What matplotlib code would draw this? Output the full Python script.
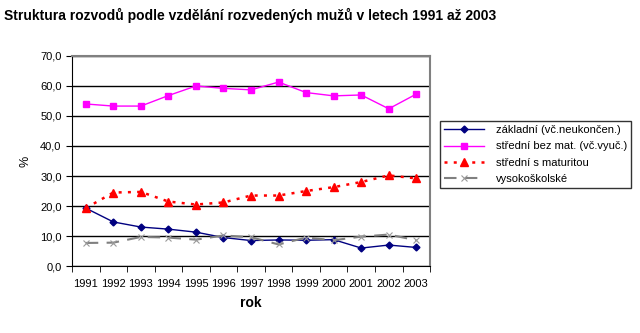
import matplotlib.pyplot as plt
import numpy as np

plt.rcParams['font.family'] = ['Liberation Sans', 'DejaVu Sans']

# Data
roky = ['1991', '1992', '1993', '1994', '1995', '1996', '1997',
        '1998', '1999', '2000', '2001', '2002', '2003']
zakladni = [19.3, 14.7, 13.0, 12.3, 11.3, 9.5, 8.5, 8.7, 8.6, 8.8, 6.0, 7.0, 6.2]
stredni_bez = [54.0, 53.3, 53.3, 56.8, 60.0, 59.2, 58.7, 61.3, 57.8, 56.7, 57.0, 52.4, 57.3]
stredni_mat = [19.3, 24.5, 24.7, 21.5, 20.5, 21.2, 23.5, 23.5, 25.0, 26.3, 28.0, 30.2, 29.2]
vysokoskolske = [7.7, 7.8, 9.7, 9.5, 8.8, 10.2, 9.6, 7.2, 9.5, 8.6, 9.8, 10.5, 8.6]

fig = plt.figure(figsize=(6.4, 3.33), dpi=100)
ax = fig.add_axes([0.1125, 0.201, 0.5595, 0.631])

x = np.arange(1, len(roky) + 1)

ax.plot(x, zakladni, color='#000080', lw=1, marker='D', ms=3.5,
        label='základní (vč.neukončen.)')
ax.plot(x, stredni_bez, color='#FF00FF', lw=1, marker='s', ms=5,
        label='střední bez mat. (vč.vyuč.)')
ax.plot(x, stredni_mat, color='#FF0000', lw=1.8, ls=(0, (1.2, 2.5)), marker='^', ms=5.5,
        label='střední s maturitou')
ax.plot(x, vysokoskolske, color='#808080', lw=1.5, ls=(0, (6, 4)), marker='x', ms=5,
        mew=0.8, mec='#999999', label='vysokoškolské')

ax.set_xlim(0.5, len(roky) + 0.5)
ax.set_ylim(0, 70)
ax.set_yticks(np.arange(0, 71, 10))
ax.set_yticklabels([f'{v:.1f}'.replace('.', ',') for v in np.arange(0, 71, 10)], fontsize=8)
ax.set_xticks(x)
ax.set_xticklabels(roky, fontsize=8)
ax.set_xticks(np.arange(0.5, len(roky) + 1, 1), minor=True)
ax.tick_params(axis='x', which='major', length=0, pad=9)
ax.tick_params(axis='x', which='minor', length=4, direction='out')
ax.tick_params(axis='y', length=4, direction='out')

ax.grid(axis='y', color='black', lw=1)
ax.set_axisbelow(True)
ax.spines['top'].set_color('#808080')
ax.spines['right'].set_color('#808080')
ax.spines['top'].set_linewidth(1.5)
ax.spines['right'].set_linewidth(1.5)

ax.set_xlabel('rok', fontsize=10, fontweight='bold', labelpad=5)
ax.set_ylabel('%', fontsize=9, labelpad=6)

fig.text(0.006, 0.975, 'Struktura rozvodů podle vzdělání rozvedených mužů v letech 1991 až 2003',
         fontsize=10, fontweight='bold', va='top', ha='left')

leg = fig.legend(loc='upper left', bbox_to_anchor=(0.6875, 0.637), fontsize=8,
                 frameon=True, fancybox=False, edgecolor='black', handlelength=3.6,
                 borderpad=0.4, labelspacing=0.55, handletextpad=1.0, borderaxespad=0)
leg.get_frame().set_linewidth(1)

fig.savefig('out.png', dpi=100)
